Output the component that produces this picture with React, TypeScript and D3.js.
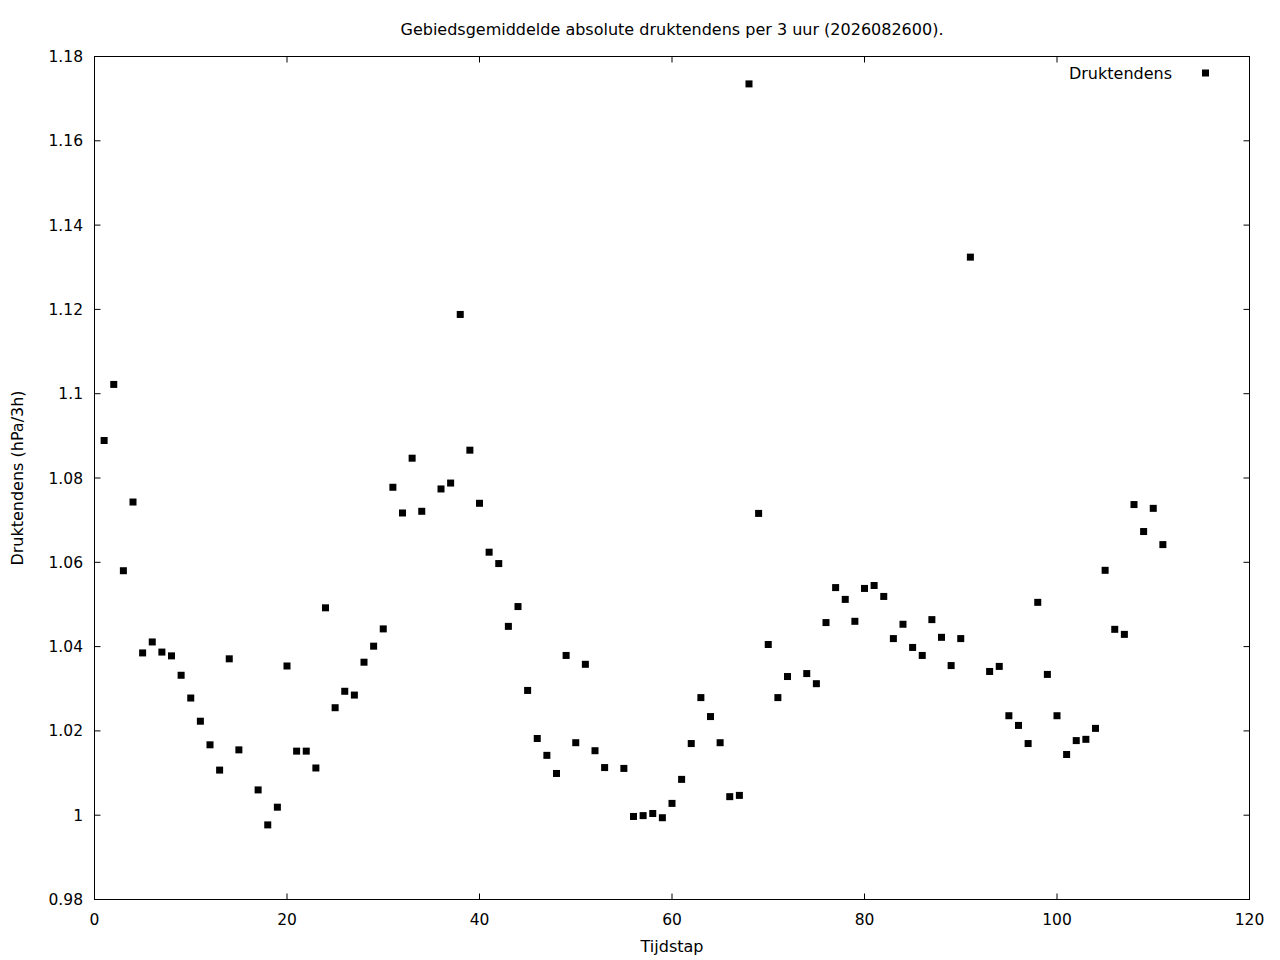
import React from "react";
import * as d3 from "d3";

const steps: number[] = [
  1, 2, 3, 4, 5, 6, 7, 8, 9, 10, 11, 12, 13, 14, 15, 17, 18, 19, 20,
  21, 22, 23, 24, 25, 26, 27, 28, 29, 30, 31, 32, 33, 34, 36, 37, 38, 39, 40,
  41, 42, 43, 44, 45, 46, 47, 48, 49, 50, 51, 52, 53, 55, 56, 57, 58, 59, 60,
  61, 62, 63, 64, 65, 66, 67, 68, 69, 70, 71, 72, 74, 75, 76, 77, 78, 79, 80,
  81, 82, 83, 84, 85, 86, 87, 88, 89, 90, 91, 93, 94, 95, 96, 97, 98, 99, 100,
  101, 102, 103, 104, 105, 106, 107, 108, 109, 110, 111,
];

const values: number[] = [
  1.0889, 1.1022, 1.058, 1.0743, 1.0385, 1.0411, 1.0387, 1.0378, 1.0332, 1.0278,
  1.0223, 1.0167, 1.0107, 1.0371, 1.0155, 1.006, 0.9977, 1.0019, 1.0354,
  1.0152, 1.0152, 1.0112, 1.0492, 1.0255, 1.0294, 1.0285, 1.0363, 1.0401, 1.0442,
  1.0778, 1.0717, 1.0847, 1.0721, 1.0774, 1.0788, 1.1188, 1.0866, 1.074,
  1.0624, 1.0597, 1.0448, 1.0495, 1.0296, 1.0182, 1.0142, 1.0099, 1.0379, 1.0172,
  1.0358, 1.0153, 1.0113, 1.0111, 0.9997, 0.9999, 1.0004, 0.9994, 1.0028,
  1.0085, 1.017, 1.0279, 1.0234, 1.0172, 1.0044, 1.0047, 1.1735, 1.0716, 1.0405,
  1.0279, 1.0329, 1.0336, 1.0312, 1.0457, 1.054, 1.0512, 1.046, 1.0538,
  1.0545, 1.0519, 1.0419, 1.0453, 1.0398, 1.0379, 1.0464, 1.0422, 1.0355, 1.0419,
  1.1324, 1.0341, 1.0353, 1.0236, 1.0213, 1.017, 1.0505, 1.0334, 1.0236,
  1.0144, 1.0177, 1.018, 1.0206, 1.0581, 1.0441, 1.0429, 1.0737, 1.0673, 1.0728,
  1.0642,
];

const xTicks: number[] = [0, 20, 40, 60, 80, 100, 120];
const yTicks: number[] = [0.98, 1.0, 1.02, 1.04, 1.06, 1.08, 1.1, 1.12, 1.14, 1.16, 1.18];

const title = "Gebiedsgemiddelde absolute druktendens per 3 uur (2026082600).";
const xLabel = "Tijdstap";
const yLabel = "Druktendens (hPa/3h)";
const seriesName = "Druktendens";

const W = 1280;
const H = 960;
const L = 94.5;
const R = 1249.5;
const T = 56.5;
const B = 899.5;
const FONT = "'DejaVu Sans', sans-serif";

export default function App() {
  const x = d3.scaleLinear().domain([0, 120]).range([L, R]);
  const y = d3.scaleLinear().domain([0.98, 1.18]).range([B, T]);
  const ms = 7;
  const tl = 6;
  const fs = 16;
  const tfs = 15.5;
  const fmtY = (v: number) => String(+v.toFixed(2));
  return (
    <svg
      width={W}
      height={H}
      style={{ position: "absolute", left: 0, top: 0, background: "#fff" }}
      fontFamily={FONT}
    >
      <rect x={0} y={0} width={W} height={H} fill="#fff" />
      <text x={672} y={35} textAnchor="middle" fontSize={fs} fill="#000">
        {title}
      </text>
      {xTicks.map((t) => (
        <g key={"xt" + t}>
          <line x1={x(t)} x2={x(t)} y1={B} y2={B - tl} stroke="#000" strokeWidth={1} />
          <line x1={x(t)} x2={x(t)} y1={T} y2={T + tl} stroke="#000" strokeWidth={1} />
          <text x={x(t)} y={925} textAnchor="middle" fontSize={tfs} fill="#000">
            {String(t)}
          </text>
        </g>
      ))}
      {yTicks.map((t) => (
        <g key={"yt" + t}>
          <line x1={L} x2={L + tl} y1={y(t)} y2={y(t)} stroke="#000" strokeWidth={1} />
          <line x1={R} x2={R - tl} y1={y(t)} y2={y(t)} stroke="#000" strokeWidth={1} />
          <text x={83} y={y(t) + 5.5} textAnchor="end" fontSize={tfs} fill="#000">
            {fmtY(t)}
          </text>
        </g>
      ))}
      <rect x={L} y={T} width={R - L} height={B - T} fill="none" stroke="#000" strokeWidth={1} />
      <text x={672} y={952} textAnchor="middle" fontSize={fs} fill="#000">
        {xLabel}
      </text>
      <text
        transform={`translate(23,${(T + B) / 2}) rotate(-90)`}
        textAnchor="middle"
        fontSize={fs}
        fill="#000"
      >
        {yLabel}
      </text>
      <text x={1172} y={79} textAnchor="end" fontSize={fs} fill="#000">
        {seriesName}
      </text>
      <rect x={1205.5 - 3.5} y={73 - 3.5} width={ms} height={ms} fill="#000" />
      {steps.map((s, i) => (
        <rect
          key={"p" + s}
          x={x(s) - ms / 2}
          y={y(values[i]) - ms / 2}
          width={ms}
          height={ms}
          fill="#000"
        />
      ))}
    </svg>
  );
}
